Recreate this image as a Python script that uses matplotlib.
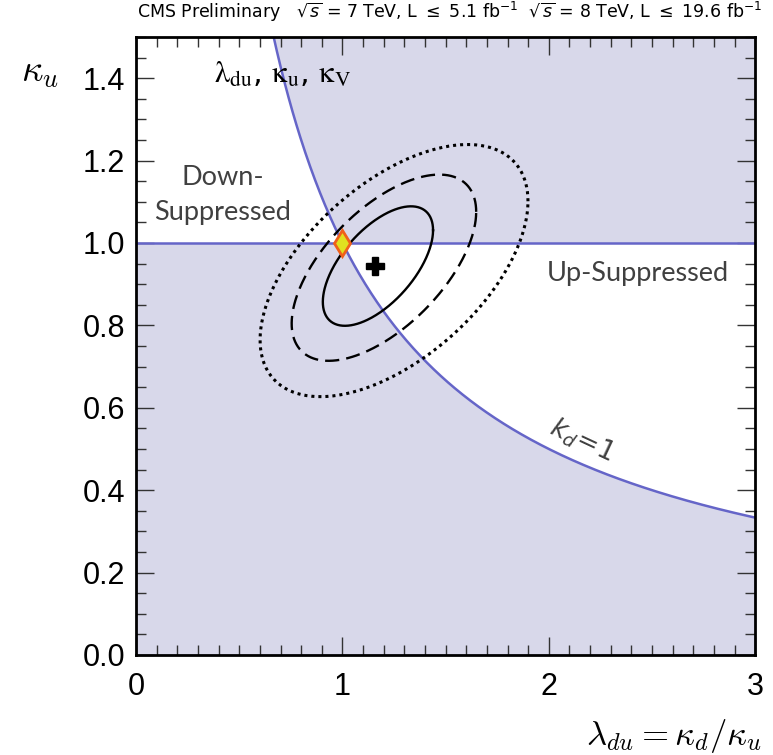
import matplotlib
matplotlib.use("Agg")
import matplotlib.pyplot as plt
import numpy as np

# data
# contour ellipses: 68%, 95%, 99.7% (center x, center y, half width, half height, correlation)
cont_cx = [1.172, 1.201, 1.250]
cont_cy = [0.944, 0.940, 0.933]
cont_a = [0.267, 0.447, 0.649]
cont_b = [0.145, 0.226, 0.306]
cont_rho = [0.60, 0.60, 0.55]
cont_styles = ['-', (0, (6, 3)), (0, (1, 1.3))]
cont_lw = [1.7, 1.7, 2.2]

best_fit = (1.158, 0.944)
sm_point = (1.0, 1.0)

xticks = [0, 1, 2, 3]
yticks = [0.0, 0.2, 0.4, 0.6, 0.8, 1.0, 1.2, 1.4]

fill_col = '#d8d8ea'
line_col = '#6565c8'

fig = plt.figure(figsize=(7.73, 7.55), dpi=100)
ax = fig.add_axes([0.176, 0.1325, 0.801, 0.8185])
ax.set_xlim(0, 3)
ax.set_ylim(0, 1.5)

# shaded regions (both up or both down)
lam = np.linspace(0.001, 3, 2000)
kd1 = 1.0 / lam
ax.fill_between(lam, np.clip(np.maximum(1.0, kd1), 0, 1.5), 1.5, color=fill_col, lw=0, zorder=0)
ax.fill_between(lam, 0, np.minimum(1.0, kd1), color=fill_col, lw=0, zorder=0)

# kd = 1 line and ku = 1 line
lam2 = np.linspace(1 / 1.6, 3, 500)
ax.plot(lam2, 1.0 / lam2, color=line_col, lw=1.8, zorder=2)
ax.axhline(1.0, color=line_col, lw=1.8, zorder=2)

# contours
t = np.linspace(0, 2 * np.pi, 400)
for cx, cy, a, b, r, ls, lw in zip(cont_cx, cont_cy, cont_a, cont_b, cont_rho, cont_styles, cont_lw):
    phi = np.arccos(r)
    ax.plot(cx + a * np.cos(t), cy + b * np.cos(t - phi), color='black', lw=lw,
            linestyle=ls, zorder=3)

ax.plot(best_fit[0], best_fit[1], marker='P', ms=13, color='black', mec='black', zorder=5)
ax.plot(sm_point[0], sm_point[1], marker='d', ms=13, mfc='#e0e020', mec='#f0601a', mew=2, zorder=6)

# texts
ax.text(0.42, 1.16, 'Down-', fontsize=19.5, family='Lato', color='#404040', ha='center', va='center')
ax.text(0.42, 1.075, 'Suppressed', fontsize=19.5, family='Lato', color='#404040', ha='center', va='center')
ax.text(2.43, 0.927, 'Up-Suppressed', fontsize=19.5, family='Lato', color='#404040', ha='center', va='center')
ax.text(2.16, 0.52, r'$k_d\!=\!1$', fontsize=19, color='#404040', ha='center', va='center',
        rotation=-25, math_fontfamily='dejavusans')
ax.text(0.38, 1.41, r'$\mathrm{\lambda_{du}}$, $\mathrm{\kappa_{u}}$, $\mathrm{\kappa_{V}}$', fontsize=22,
        ha='left', va='center', math_fontfamily='stix')

fig.text(0.582, 0.984, r'CMS Preliminary   $\sqrt{s}$ = 7 TeV, L $\leq$ 5.1 fb$^{-1}$  $\sqrt{s}$ = 8 TeV, L $\leq$ 19.6 fb$^{-1}$',
         fontsize=12.5, family='Liberation Sans Narrow', ha='center', va='center', math_fontfamily='dejavusans')
fig.text(0.052, 0.905, r'$\kappa_u$', fontsize=27, ha='center', va='center', math_fontfamily='cm')
fig.text(0.985, 0.025, r'$\lambda_{du} = \kappa_d/\kappa_u$', fontsize=25, ha='right', va='center',
         math_fontfamily='cm')

# axes / ticks ROOT style
ax.set_xticks(xticks)
ax.set_xticklabels([str(v) for v in xticks])
ax.set_yticks(yticks)
ax.set_yticklabels(['%.1f' % v for v in yticks])
ax.set_xticks(np.arange(0, 3.001, 0.1), minor=True)
ax.set_yticks(np.arange(0, 1.501, 0.05), minor=True)
ax.tick_params(which='both', direction='in', top=True, right=True, color='#333333', width=1)
ax.tick_params(which='major', length=13, labelsize=22, pad=8)
ax.tick_params(axis='x', which='major', pad=12)
ax.tick_params(which='minor', length=7)
for lab in ax.get_xticklabels() + ax.get_yticklabels():
    lab.set_family('Liberation Sans')
for s in ax.spines.values():
    s.set_linewidth(2)
    s.set_zorder(10)

plt.savefig('out.png', dpi=100)
